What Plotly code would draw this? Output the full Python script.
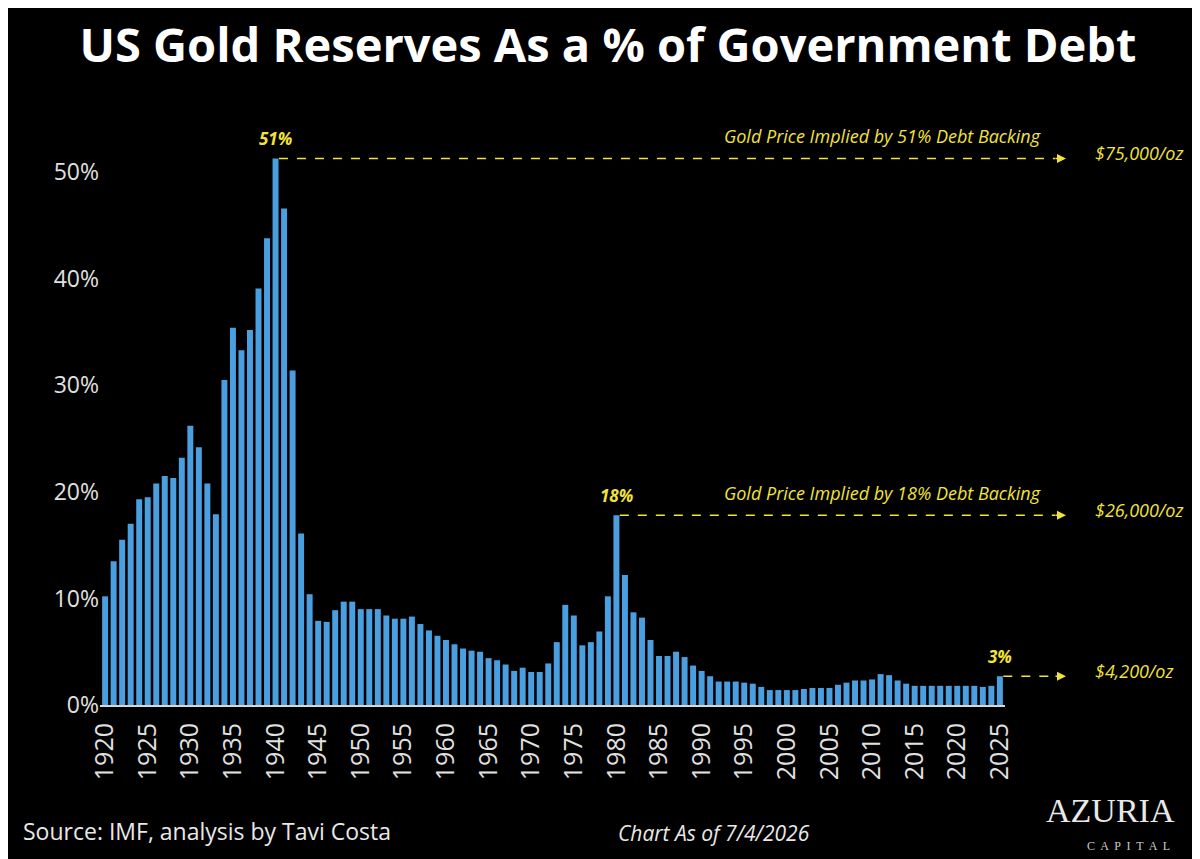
import plotly.graph_objects as go

years = list(range(1920, 2026))
gold_pct = [
    10.2, 13.5, 15.5, 17.0, 19.3, 19.5, 20.8, 21.5, 21.3, 23.2,
    26.2, 24.2, 20.8, 17.9, 30.5, 35.4, 33.3, 35.2, 39.1, 43.8,
    51.3, 46.6, 31.4, 16.1, 10.4, 7.9, 7.8, 8.9, 9.7, 9.7,
    9.0, 9.0, 9.0, 8.4, 8.1, 8.1, 8.3, 7.6, 7.0, 6.5,
    6.1, 5.7, 5.3, 5.1, 5.0, 4.4, 4.2, 3.8, 3.2, 3.5,
    3.1, 3.1, 3.9, 5.9, 9.4, 8.4, 5.6, 5.9, 6.9, 10.2,
    17.8, 12.2, 8.7, 8.2, 6.1, 4.6, 4.6, 5.0, 4.5, 3.7,
    3.2, 2.7, 2.2, 2.2, 2.2, 2.1, 2.0, 1.7, 1.4, 1.4,
    1.4, 1.4, 1.5, 1.6, 1.6, 1.6, 1.9, 2.1, 2.3, 2.3,
    2.4, 2.9, 2.8, 2.3, 2.0, 1.8, 1.8, 1.8, 1.8, 1.8,
    1.8, 1.8, 1.8, 1.7, 1.8, 2.7,
]
tick_years = list(range(1920, 2026, 5))
y_ticks = [0, 10, 20, 30, 40, 50]
y_labels = ["0%", "10%", "20%", "30%", "40%", "50%"]

# callouts: (year, value, label, implied price, caption)
callouts = [
    (1940, 51.3, "51%", "$75,000/oz", "Gold Price Implied by 51% Debt Backing"),
    (1980, 17.8, "18%", "$26,000/oz", "Gold Price Implied by 18% Debt Backing"),
    (2025, 2.7, "3%", "$4,200/oz", ""),
]

x_range = [1919.4, 2025.6]
y_max = 55
W, H = 1200, 859
m_l, m_r, m_t, m_b = 92, 203, 111, 162
plot_w = W - m_l - m_r

yellow = "#f2e33a"


def xpaper(yr):
    return (yr - x_range[0]) / (x_range[1] - x_range[0])


fig = go.Figure()
fig.add_trace(go.Bar(x=years, y=gold_pct, marker=dict(color="#4a9fe0", line=dict(width=0))))

end_px = 1058
end_paper = (end_px - m_l) / plot_w

for yr, val, lab, price, cap in callouts:
    yp = val / y_max
    fig.add_annotation(x=yr, y=val, xref="x", yref="y", text=f"<b><i>{lab}</i></b>",
                       showarrow=False, yshift=20, font=dict(size=17, color=yellow))
    fig.add_shape(type="line", xref="paper", yref="paper",
                  x0=xpaper(yr + 0.4), x1=end_paper - 0.012, y0=yp, y1=yp,
                  line=dict(color=yellow, width=1.5, dash="dash"))
    fig.add_annotation(xref="paper", yref="paper", x=end_paper, y=yp, ax=-12, ay=0,
                       showarrow=True, arrowhead=2, arrowsize=1.2, arrowwidth=1.5,
                       arrowcolor=yellow, text="")
    fig.add_annotation(xref="paper", yref="paper", x=end_paper + 0.03, y=yp,
                       xanchor="left", yanchor="middle", yshift=5, showarrow=False,
                       text=f"<i>{price}</i>", font=dict(size=18, color=yellow))
    if cap:
        fig.add_annotation(xref="paper", yref="paper", x=end_paper - 0.025, y=yp,
                           xanchor="right", yanchor="bottom", yshift=8, showarrow=False,
                           text=f"<i>{cap}</i>", font=dict(size=18, color=yellow))

fig.add_annotation(xref="paper", yref="paper", x=-0.087, y=-0.245, xanchor="left",
                   showarrow=False, text="Source: IMF, analysis by Tavi Costa",
                   font=dict(size=23, color="#e8e8e8"))
fig.add_annotation(xref="paper", yref="paper", x=0.57, y=-0.245, xanchor="left",
                   showarrow=False, text="<i>Chart As of 7/4/2026</i>",
                   font=dict(size=21, color="#e8e8e8"))
fig.add_annotation(xref="paper", yref="paper", x=1.19, y=-0.215, xanchor="right",
                   showarrow=False, text="AZURIA",
                   font=dict(size=34, color="#e8e8e8", family="Liberation Serif"))
fig.add_annotation(xref="paper", yref="paper", x=1.185, y=-0.24, xanchor="right",
                   yanchor="middle", showarrow=False, text="C  A  P  I  T  A  L",
                   font=dict(size=12, color="#cccccc", family="Liberation Serif"))

fig.update_xaxes(range=x_range, tickvals=tick_years, tickangle=-90, showgrid=False,
                 tickfont=dict(size=25, color="#e0e0e0"), showline=True,
                 linecolor="#d8d8d8", linewidth=2, ticks="outside", ticklen=6,
                 tickcolor="black")
fig.update_yaxes(range=[0, y_max], tickvals=y_ticks, ticktext=y_labels, showgrid=False,
                 zeroline=False, tickfont=dict(size=23, color="#e0e0e0"))
fig.update_layout(
    width=W, height=H, plot_bgcolor="black", paper_bgcolor="black",
    margin=dict(l=m_l, r=m_r, t=m_t, b=m_b), bargap=0.3, showlegend=False,
    font=dict(family="Open Sans"),
    title=dict(text="<b>US Gold Reserves As a % of Government Debt</b>", x=0.5, y=0.975,
               xanchor="center", font=dict(size=47, color="white", family="Open Sans")),
)
fig.write_html("out.html")
